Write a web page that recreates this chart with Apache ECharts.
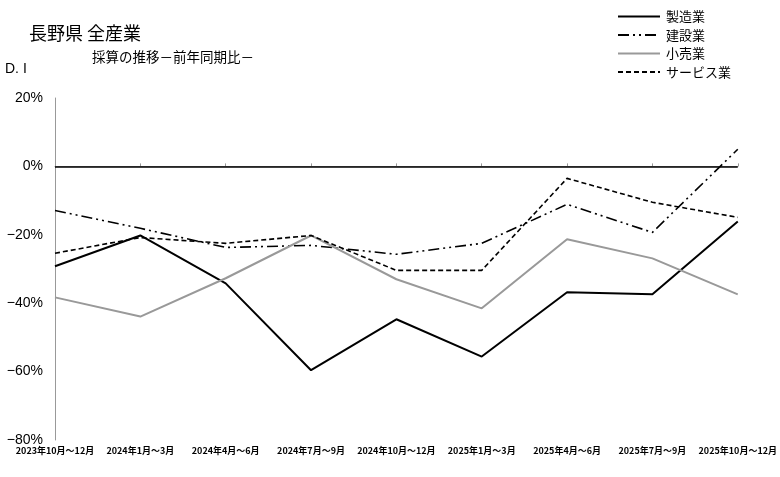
<!DOCTYPE html>
<html>
<head>
<meta charset="utf-8">
<script src="https://cdn.jsdelivr.net/npm/echarts@6/dist/echarts.min.js"></script>
<style>
html, body { margin: 0; padding: 0; background: #fff; }
#main { width: 780px; height: 477px; }
</style>
</head>
<body>
<div id="main"></div>
<script>
var categories = ['2023年10月～12月', '2024年1月～3月', '2024年4月～6月', '2024年7月～9月', '2024年10月～12月',
	'2025年1月～3月', '2025年4月～6月', '2025年7月～9月', '2025年10月～12月'];
var seizo = [-29.2, -20.2, -34.2, -59.6, -44.7, -55.6, -36.8, -37.4, -16.1];
var kensetsu = [-12.9, -18.1, -23.7, -23.1, -25.7, -22.5, -11.1, -19.3, 5.0];
var kouri = [-38.3, -43.9, -32.7, -20.2, -33.0, -41.5, -21.3, -26.9, -37.4];
var service = [-25.4, -20.8, -22.5, -20.2, -30.4, -30.4, -3.5, -10.5, -14.9];

var font = '"Noto Sans CJK JP", sans-serif';
var myChart = echarts.init(document.getElementById('main'));

var option = {
	backgroundColor: '#fff',
	animation: false,
	textStyle: { fontFamily: font },
	title: [{
		text: '長野県 全産業',
		left: 24, top: 19,
		textStyle: { fontSize: 18, fontWeight: 'normal', color: '#000', fontFamily: font }
	}, {
		text: '採算の推移－前年同期比－',
		left: 87, top: 45,
		textStyle: { fontSize: 13.5, fontWeight: 'normal', color: '#000', fontFamily: font }
	}, {
		text: 'D. I',
		left: 0, top: 57,
		textStyle: { fontSize: 14, fontWeight: 'normal', color: '#000', fontFamily: 'Arial, "Liberation Sans", sans-serif' }
	}],
	legend: {
		orient: 'vertical',
		left: 612, top: 5,
		itemWidth: 42, itemHeight: 12,
		itemGap: 5.5,
		itemStyle: { opacity: 0 },
		textStyle: { fontSize: 13, color: '#000', fontFamily: font, padding: [0, 0, 0, 1] },
		data: ['製造業', '建設業', '小売業', 'サービス業']
	},
	grid: { left: 55, right: 40, top: 98, bottom: 37 },
	xAxis: {
		type: 'category',
		boundaryGap: false,
		data: categories,
		axisLine: { lineStyle: { color: '#999', width: 1 } },
		axisTick: { inside: true, length: 3, lineStyle: { color: '#999' } },
		axisLabel: { fontSize: 9, color: '#000', fontWeight: 'bold', interval: 0, margin: 6 }
	},
	yAxis: {
		type: 'value',
		min: -80, max: 20, interval: 20,
		axisLine: { show: true, lineStyle: { color: '#999', width: 1 } },
		axisTick: { show: false },
		splitLine: { show: false },
		axisLabel: {
			fontSize: 14, color: '#000', margin: 12,
			fontFamily: 'Arial, "Liberation Sans", sans-serif',
			formatter: function (v) { return String(v).replace('-', '−') + '%'; }
		}
	},
	series: [{
		name: '製造業', type: 'line', symbol: 'none',
		data: seizo,
		lineStyle: { color: '#000', width: 2 },
		itemStyle: { color: '#000' },
		markLine: {
			silent: true, symbol: 'none', label: { show: false },
			lineStyle: { color: '#000', width: 1.5, type: 'solid' },
			data: [{ yAxis: 0 }]
		}
	}, {
		name: '建設業', type: 'line', symbol: 'none',
		data: kensetsu,
		lineStyle: { color: '#000', width: 1.6, type: [11, 4, 2, 4, 2, 4] },
		itemStyle: { color: '#000' }
	}, {
		name: '小売業', type: 'line', symbol: 'none',
		data: kouri,
		lineStyle: { color: '#999', width: 2 },
		itemStyle: { color: '#999' }
	}, {
		name: 'サービス業', type: 'line', symbol: 'none',
		data: service,
		lineStyle: { color: '#000', width: 1.6, type: [5, 3] },
		itemStyle: { color: '#000' }
	}]
};

myChart.setOption(option);
</script>
</body>
</html>
